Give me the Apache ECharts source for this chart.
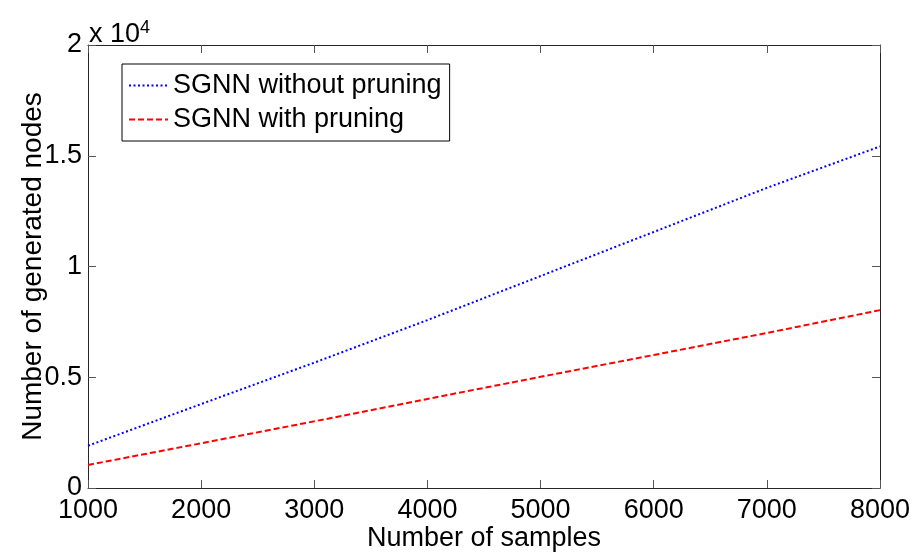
<!DOCTYPE html>
<html>
<head>
<meta charset="utf-8">
<script src="https://cdn.jsdelivr.net/npm/echarts@6/dist/echarts.min.js"></script>
<style>
html,body{margin:0;padding:0;background:#fff;}
#chart{width:916px;height:554px;}
</style>
</head>
<body>
<div id="chart"></div>
<script>
// Data
var samples = [1000, 2000, 3000, 4000, 5000, 6000, 7000, 8000];
var withoutPruning = [1910, 3790, 5660, 7580, 9570, 11560, 13550, 15420];
var withPruning = [1040, 2020, 3010, 4020, 5020, 6005, 7000, 8030];
var seriesNames = ['SGNN without pruning', 'SGNN with pruning'];
var xTicks = [1000, 2000, 3000, 4000, 5000, 6000, 7000, 8000];
var yTicks = [0, 0.5, 1, 1.5, 2];

var FONT = '"Liberation Sans", Arial, sans-serif';
var FS = 27;

function pairs(xs, ys) { return xs.map(function (x, i) { return [x, ys[i]]; }); }

var chart = echarts.init(document.getElementById('chart'), null, {renderer: 'canvas'});
var axisCol = '#262626';
var option = {
  backgroundColor: '#ffffff',
  animation: false,
  textStyle: {fontFamily: FONT},
  title: {
    text: 'x 10{sup|4}',
    left: 84,
    top: 14,
    textStyle: {
      fontFamily: FONT, fontSize: FS, fontWeight: 'normal', color: '#000',
      rich: {sup: {fontFamily: FONT, fontSize: 18, verticalAlign: 'top', color: '#000', padding: [0, 0, 14, 0]}}
    }
  },
  grid: {left: 88, top: 45, right: 36, bottom: 66, containLabel: false, outerBoundsMode: 'none'},
  legend: {
    show: true,
    left: 122, top: 64,
    orient: 'vertical',
    backgroundColor: '#fff',
    borderColor: '#000', borderWidth: 1,
    padding: [8, 8, 8, 6],
    itemWidth: 39, itemHeight: 26, itemGap: 7,
    itemStyle: {opacity: 0},
    textStyle: {fontFamily: FONT, fontSize: FS, color: '#000'},
    data: seriesNames
  },
  xAxis: [{
    type: 'value', min: 1000, max: 8000, interval: 1000,
    name: 'Number of samples', nameLocation: 'middle', nameGap: 37, nameMoveOverlap: false,
    nameTextStyle: {fontFamily: FONT, fontSize: FS, color: '#000'},
    axisLine: {show: true, onZero: false, lineStyle: {color: axisCol, width: 1}},
    axisTick: {show: true, inside: true, length: 8, lineStyle: {color: '#555'}},
    axisLabel: {fontFamily: FONT, fontSize: FS, color: '#000', margin: 9,
      formatter: function (v) { return xTicks.indexOf(v) >= 0 ? String(v) : ''; }},
    splitLine: {show: false}
  }, {
    type: 'value', position: 'top', min: 1000, max: 8000, interval: 1000,
    axisLine: {show: true, onZero: false, lineStyle: {color: axisCol, width: 1}},
    axisTick: {show: true, inside: true, length: 8, lineStyle: {color: '#555'}},
    axisLabel: {show: false}, splitLine: {show: false}
  }],
  yAxis: [{
    type: 'value', min: 0, max: 20000, interval: 5000,
    name: 'Number of generated nodes', nameLocation: 'middle', nameGap: 41, nameMoveOverlap: false,
    nameTextStyle: {fontFamily: FONT, fontSize: 28, color: '#000'},
    axisLine: {show: true, onZero: false, lineStyle: {color: axisCol, width: 1}},
    axisTick: {show: true, inside: true, length: 8, lineStyle: {color: '#555'}},
    axisLabel: {fontFamily: FONT, fontSize: FS, color: '#000', margin: 6,
      formatter: function (v) { var t = v / 10000; return yTicks.indexOf(t) >= 0 ? String(t) : ''; }},
    splitLine: {show: false}
  }, {
    type: 'value', position: 'right', min: 0, max: 20000, interval: 5000,
    axisLine: {show: true, onZero: false, lineStyle: {color: axisCol, width: 1}},
    axisTick: {show: true, inside: true, length: 8, lineStyle: {color: '#555'}},
    axisLabel: {show: false}, splitLine: {show: false}
  }],
  series: [{
    name: seriesNames[0], type: 'line', xAxisIndex: 0, yAxisIndex: 0,
    data: pairs(samples, withoutPruning),
    showSymbol: false, symbol: 'none',
    itemStyle: {color: '#0000ff'},
    lineStyle: {color: '#0000ff', width: 2, type: [2, 2.5]}
  }, {
    name: seriesNames[1], type: 'line', xAxisIndex: 0, yAxisIndex: 0,
    data: pairs(samples, withPruning),
    showSymbol: false, symbol: 'none',
    itemStyle: {color: '#ff0000'},
    lineStyle: {color: '#ff0000', width: 2, type: [6, 3]}
  }]
};
chart.setOption(option);
</script>
</body>
</html>
